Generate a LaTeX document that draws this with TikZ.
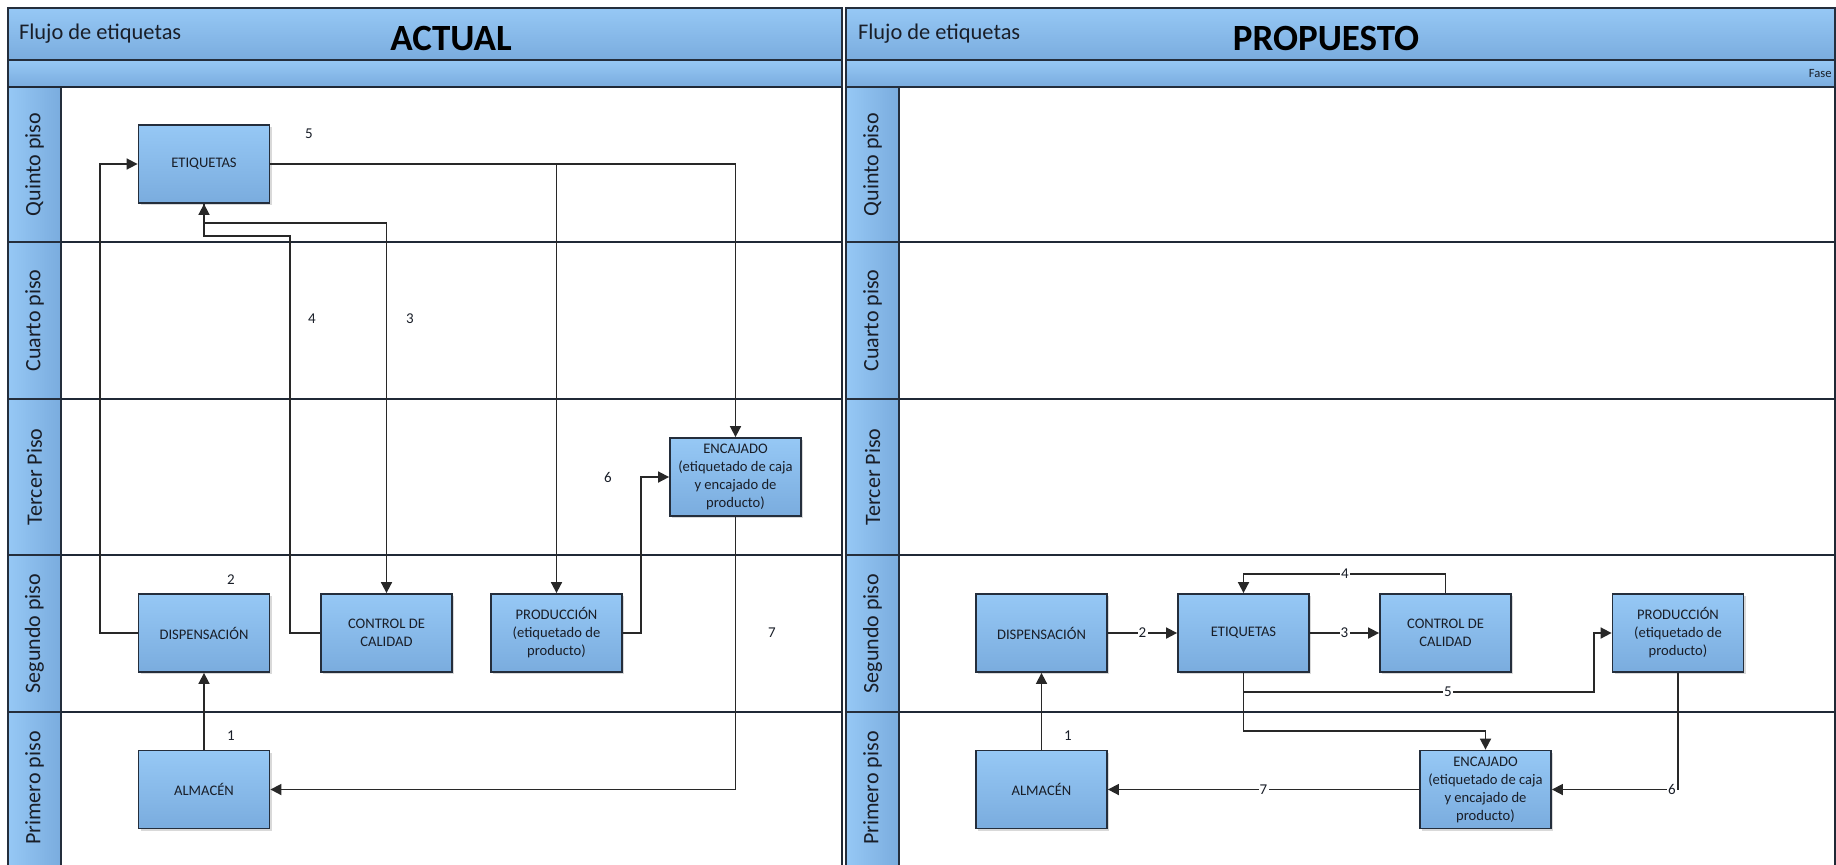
\documentclass[tikz,border=0pt]{standalone}
\usepackage{fontspec}
\setmainfont{Carlito}
\usetikzlibrary{arrows.meta,shadows}

\definecolor{bandtop}{RGB}{150,200,245}
\definecolor{bandbot}{RGB}{122,172,222}
\definecolor{edge}{RGB}{36,46,60}
\definecolor{wire}{RGB}{40,40,40}
\definecolor{txt}{RGB}{25,30,40}

\tikzset{
  box/.style={draw=edge, line width=0.9pt, top color=bandtop, bottom color=bandbot,
    minimum width=65.5pt, minimum height=39pt, inner sep=1pt, align=center,
    text=txt, font=\fontsize{7.3}{9}\selectfont,
    drop shadow={shadow xshift=1.1pt, shadow yshift=-1.1pt, opacity=0.3}},
  flow/.style={draw=wire, line width=0.85pt, -{Triangle[length=5.5pt,width=5.5pt]}},
  lbl/.style={font=\fontsize{7.5}{9}\selectfont, text=txt, inner sep=0.6pt},
  onwire/.style={lbl, fill=white},
  band/.style={draw=edge, line width=0.9pt, top color=bandtop, bottom color=bandbot},
  lanecell/.style={draw=edge, line width=0.9pt, left color=bandtop, right color=bandbot},
  lanetext/.style={rotate=90, font=\fontsize{11}{13}\selectfont, text=txt},
  divider/.style={draw=edge!90!black, line width=1pt}
}

\begin{document}
\begin{tikzpicture}[x=0.5pt, y=-0.5pt]
\useasboundingbox (0,0) rectangle (1836,864);

% ---------- left pool: ACTUAL ----------
\path[band] (8,8) rectangle (842,60);
\path[band] (8,60) rectangle (842,87);
\node[anchor=west, font=\fontsize{11.2}{13}\selectfont, text=txt] (ttlA) at (12,34) {Flujo de etiquetas};
\node[font=\fontsize{18.5}{20}\selectfont\bfseries] (hdrA) at (451,38) {ACTUAL};
\foreach \a/\b in {87/242, 242/399, 399/555, 555/712, 712/866}
  \path[lanecell] (8,\a) rectangle (61,\b);
\draw[divider] (8,87) -- (842,87);
\foreach \y in {242,399,555,712}
  \draw[divider] (61,\y) -- (842,\y);
\draw[divider] (842,87) -- (842,866);
\node[lanetext] (lA1) at (34.5,164.5) {Quinto piso};
\node[lanetext] (lA2) at (34.5,320.5) {Cuarto piso};
\node[lanetext] (lA3) at (34.5,477) {Tercer Piso};
\node[lanetext] (lA4) at (34.5,633.5) {Segundo piso};
\node[lanetext] (lA5) at (34.5,788) {Primero piso};

% process boxes
\node[box] (etqA) at (204,164) {ETIQUETAS};
\node[box] (dspA) at (204,633) {DISPENSACIÓN};
\node[box] (almA) at (204,789.5) {ALMACÉN};
\node[box] (ctlA) at (386.5,633) {CONTROL DE\\CALIDAD};
\node[box] (prdA) at (556.5,633) {PRODUCCIÓN\\(etiquetado de\\producto)};
\node[box] (encA) at (735.5,477) {ENCAJADO\\(etiquetado de caja\\y encajado de\\producto)};

% connectors
\draw[flow] (almA.north) -- (dspA.south);
\draw[flow] (dspA.west) -- (100,633) |- (etqA.west);
\draw[flow] (etqA.south) -- (204,223) -| (ctlA.north);
\draw[flow] (ctlA.west) -- (290,633) |- (250,236) -| (etqA.south);
\coordinate (tapA) at (412,164);
\draw[flow] (tapA) -| (prdA.north);
\draw[flow] (etqA.east) -| (encA.north);
\draw[flow] (prdA.east) -- (641,633) |- (encA.west);
\draw[flow] (encA.south) |- (almA.east);

\node[lbl] (nA1) at (231,736) {1};
\node[lbl] (nA2) at (231,580) {2};
\node[lbl] (nA3) at (410,319) {3};
\node[lbl] (nA4) at (312,319) {4};
\node[lbl] (nA5) at (309,134) {5};
\node[lbl] (nA6) at (608,477) {6};
\node[lbl] (nA7) at (772,633) {7};

% ---------- right pool: PROPUESTO ----------
\path[band] (846,8) rectangle (1835,60);
\path[band] (846,60) rectangle (1835,87);
\node[anchor=west, font=\fontsize{11.2}{13}\selectfont, text=txt] (ttlB) at (851,34) {Flujo de etiquetas};
\node[font=\fontsize{18.5}{20}\selectfont\bfseries] (hdrB) at (1326,38) {PROPUESTO};
\node[anchor=east, font=\fontsize{6.3}{8}\selectfont, text=txt, inner sep=1pt] (fase) at (1834,73.5) {Fase};
\foreach \a/\b in {87/242, 242/399, 399/555, 555/712, 712/866}
  \path[lanecell] (846,\a) rectangle (899,\b);
\foreach \y in {242,399,555,712}
  \draw[divider] (899,\y) -- (1835,\y);
\draw[divider] (1835,87) -- (1835,866);
\node[lanetext] (lB1) at (872.5,164.5) {Quinto piso};
\node[lanetext] (lB2) at (872.5,320.5) {Cuarto piso};
\node[lanetext] (lB3) at (872.5,477) {Tercer Piso};
\node[lanetext] (lB4) at (872.5,633.5) {Segundo piso};
\node[lanetext] (lB5) at (872.5,788) {Primero piso};

% process boxes
\node[box] (dspB) at (1041.5,633) {DISPENSACIÓN};
\node[box] (etqB) at (1243.5,633) {ETIQUETAS};
\node[box] (ctlB) at (1445.5,633) {CONTROL DE\\CALIDAD};
\node[box] (prdB) at (1678,633) {PRODUCCIÓN\\(etiquetado de\\producto)};
\node[box] (almB) at (1041.5,789.5) {ALMACÉN};
\node[box] (encB) at (1485.5,789.5) {ENCAJADO\\(etiquetado de caja\\y encajado de\\producto)};

% connectors
\draw[flow] (almB.north) -- (dspB.south);
\draw[flow] (dspB.east) -- node[onwire] (nB2) {2} (etqB.west);
\draw[flow] (etqB.east) -- node[onwire] (nB3) {3} (ctlB.west);
\draw[flow] (ctlB.north) |- (1300,574) -| (etqB.north);
\draw[flow] (etqB.south) |- (1594,692) |- (prdB.west);
\draw[flow] (etqB.south) |- (1400,731) -| (encB.north);
\draw[flow] (prdB.south) |- (encB.east);
\draw[flow] (encB.west) -- node[onwire] (nB7) {7} (almB.east);

\node[lbl] (nB1) at (1068,736) {1};
\node[onwire] (nB4) at (1345,574) {4};
\node[onwire] (nB5) at (1448,692) {5};
\node[onwire] (nB6) at (1672,789.5) {6};
\end{tikzpicture}
\end{document}
